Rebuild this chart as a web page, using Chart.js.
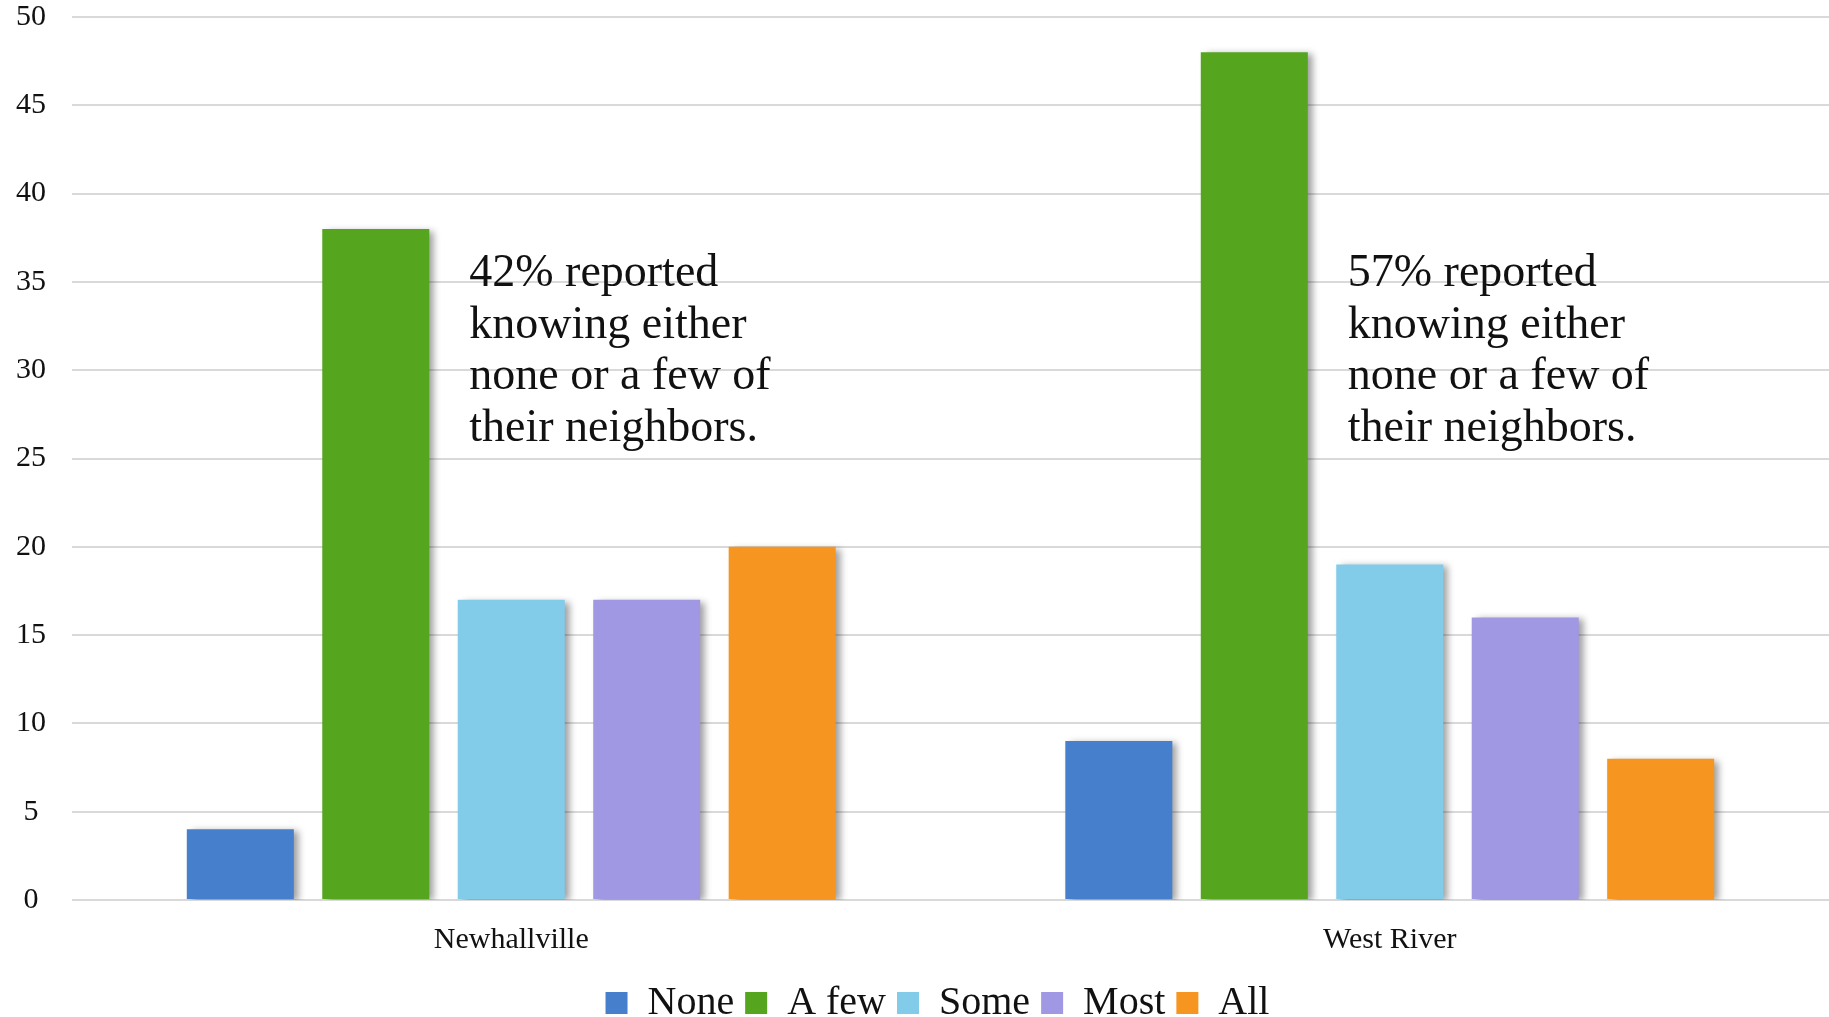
<!DOCTYPE html>
<html>
<head>
  <title>Knowing neighbors</title>
  <script src="https://cdn.jsdelivr.net/npm/chart.js"></script>
  <style>
    html, body {
      margin: 0;
      padding: 0;
      background: #ffffff;
      overflow: hidden;
    }
    #wrap {
      position: relative;
      width: 1829px;
      height: 1033px;
    }
  </style>
</head>
<body>
  <div id="wrap"><canvas id="neighborsChart"></canvas></div>

  <script>
    // data
    const neighborhoods = ['Newhallville', 'West River'];
    const answers = ['None', 'A few', 'Some', 'Most', 'All'];
    const noneValues = [4, 9];
    const aFewValues = [38, 48];
    const someValues = [17, 19];
    const mostValues = [17, 16];
    const allValues = [20, 8];
    const barColors = ['#4680cc', '#55a51e', '#82cbe9', '#a098e3', '#f6951f'];
    const yTicks = [0, 5, 10, 15, 20, 25, 30, 35, 40, 45, 50];

    const notes = [
      ['42% reported', 'knowing either', 'none or a few of', 'their neighbors.'],
      ['57% reported', 'knowing either', 'none or a few of', 'their neighbors.']
    ];

    const serif = "'Liberation Serif', 'DejaVu Serif', serif";
    const seriesValues = [noneValues, aFewValues, someValues, mostValues, allValues];

    // soft drop shadow to the right of every bar
    const barShadow = {
      id: 'barShadow',
      beforeDatasetsDraw: (chart) => {
        const ctx = chart.ctx;
        ctx.save();
        ctx.shadowColor = 'rgba(0, 0, 0, 0.38)';
        ctx.shadowBlur = 7;
        ctx.shadowOffsetX = 5;
        ctx.shadowOffsetY = 2;
      },
      afterDatasetsDraw: (chart) => {
        chart.ctx.restore();
      }
    };

    // the reference legend sits a little right of centre
    const legendNudge = {
      id: 'legendNudge',
      afterLayout: (chart) => {
        if (chart.legend) chart.legend.left += 46;
      }
    };

    // the two text notes beside the green bars
    const noteText = {
      id: 'noteText',
      afterDatasetsDraw: (chart) => {
        const ctx = chart.ctx;
        const xScale = chart.scales.x;
        const top = chart.chartArea.top;
        ctx.save();
        ctx.font = '46px ' + serif;
        ctx.fillStyle = '#111111';
        ctx.textAlign = 'left';
        ctx.textBaseline = 'alphabetic';
        notes.forEach((lines, i) => {
          const x = xScale.getPixelForValue(i) - 42;
          lines.forEach((line, j) => {
            ctx.fillText(line, x, top + 269 + j * 51.5);
          });
        });
        ctx.restore();
      }
    };

    const ctx = document.getElementById('neighborsChart').getContext('2d');

    const neighborsChart = new Chart(ctx, {
      type: 'bar',
      data: {
        labels: neighborhoods,
        datasets: answers.map((name, i) => ({
          label: name,
          data: seriesValues[i],
          backgroundColor: barColors[i],
          borderWidth: 0,
          categoryPercentage: 0.771,
          barPercentage: 0.79
        }))
      },
      options: {
        responsive: true,
        maintainAspectRatio: false,
        animation: false,
        layout: {
          padding: { top: 17, right: 0, bottom: 0, left: 0 }
        },
        plugins: {
          legend: {
            position: 'bottom',
            labels: {
              color: '#111111',
              font: { family: serif, size: 40 },
              boxWidth: 22,
              boxHeight: 22,
              padding: 11
            }
          },
          tooltip: { enabled: false }
        },
        scales: {
          x: {
            grid: { display: false },
            border: { display: false },
            ticks: {
              color: '#111111',
              font: { family: serif, size: 30 },
              padding: 14
            },
            afterFit: (scale) => { scale.height = 72; }
          },
          y: {
            min: 0,
            max: 50,
            afterBuildTicks: (scale) => {
              scale.ticks = yTicks.map(v => ({ value: v }));
            },
            grid: {
              color: '#d9d9d9',
              lineWidth: 2,
              drawTicks: false
            },
            border: { display: false },
            ticks: {
              color: '#111111',
              font: { family: serif, size: 30 },
              crossAlign: 'center',
              padding: 26
            },
            afterFit: (scale) => {
              scale.width = 72;
              scale.paddingTop = 0;
              scale.paddingBottom = 0;
            }
          }
        }
      },
      plugins: [barShadow, legendNudge, noteText]
    });
  </script>
</body>
</html>
